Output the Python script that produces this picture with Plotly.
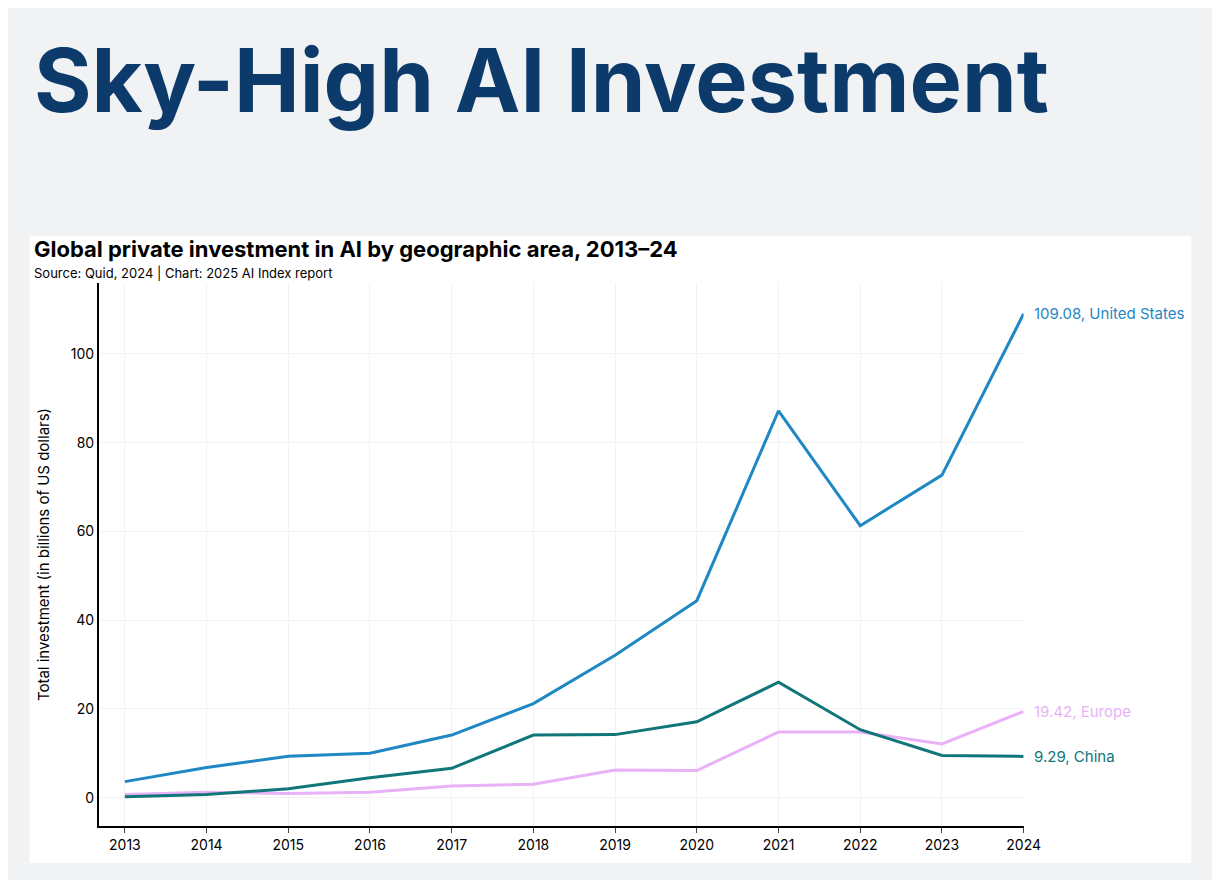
import plotly.graph_objects as go

years = list(range(2013, 2025))
us = [3.6, 6.8, 9.3, 10.0, 14.1, 21.2, 32.1, 44.4, 87.2, 61.3, 72.7, 109.08]
china = [0.2, 0.7, 2.0, 4.5, 6.6, 14.1, 14.2, 17.1, 26.0, 15.3, 9.5, 9.29]
europe = [0.7, 1.2, 0.9, 1.2, 2.6, 3.0, 6.2, 6.1, 14.8, 14.8, 12.1, 19.42]

series = [
    ('United States', us, '#1f87c4'),
    ('Europe', europe, '#e9b2f7'),
    ('China', china, '#10767a'),
]

W, H = 1220, 880
font = 'Inter, Lato, sans-serif'

fig = go.Figure()
annotations = []
for name, vals, color in series:
    fig.add_trace(go.Scatter(x=years, y=vals, mode='lines', name=name,
                             line=dict(color=color, width=3)))
    annotations.append(dict(x=years[-1], y=vals[-1], xref='x', yref='y',
                            text=f'{vals[-1]:.2f}, {name}', showarrow=False,
                            xanchor='left', xshift=8,
                            font=dict(size=15, color=color, family=font)))

annotations += [
    dict(text='<b>Sky-High AI Investment</b>', x=24 / W, y=1 - 72 / H, xref='paper', yref='paper',
         xanchor='left', yanchor='middle', showarrow=False,
         font=dict(size=88, color='#0c3b6b', family=font)),
    dict(text='<b>Global private investment in AI by geographic area, 2013–24</b>',
         x=24 / W, y=1 - 241 / H, xref='paper', yref='paper', xanchor='left',
         yanchor='middle', showarrow=False, font=dict(size=22, color='#000', family=font)),
    dict(text='Source: Quid, 2024 | Chart: 2025 AI Index report',
         x=24 / W, y=1 - 265 / H, xref='paper', yref='paper', xanchor='left',
         yanchor='middle', showarrow=False, font=dict(size=13, color='#000', family=font)),
]

fig.update_layout(
    width=W, height=H,
    margin=dict(l=0, r=0, t=0, b=0),
    paper_bgcolor='#f1f2f4',
    plot_bgcolor='white',
    showlegend=False,
    font=dict(family=font, size=14, color='#000'),
    annotations=annotations,
    shapes=[dict(type='rect', xref='paper', yref='paper', layer='below',
                 x0=22 / W, x1=1200 / W, y0=1 - 855 / H, y1=1 - 228 / H,
                 fillcolor='white', line=dict(width=0))],
    xaxis=dict(domain=[92 / W, 1030 / W], range=[2012.68, 2024],
               tickvals=years, showline=True, linecolor='#000', linewidth=1.5,
               ticks='outside', ticklen=5, gridcolor='#f2f2f2', zeroline=False),
    yaxis=dict(domain=[1 - 818 / H, 1 - 275 / H], range=[-6.4, 116],
               tickvals=[0, 20, 40, 60, 80, 100], showline=True, linecolor='#000',
               linewidth=1.5, gridcolor='#f2f2f2', zeroline=False,
               title=dict(text='Total investment (in billions of US dollars)',
                          font=dict(size=15), standoff=18)),
)

fig.write_html('out.html')
